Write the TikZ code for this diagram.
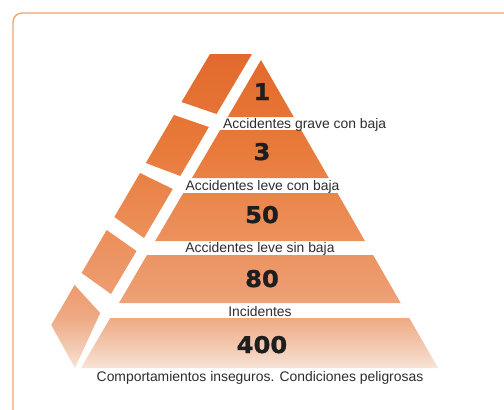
\documentclass[tikz,border=0pt]{standalone}
\usepackage{fontspec}
\setmainfont{Liberation Sans}
\newfontfamily\numfont[FakeBold=1.2, FakeStretch=1.05]{DejaVu Sans}
\definecolor{frameor}{RGB}{240,162,100}
\definecolor{txt}{RGB}{45,45,45}
\definecolor{numc}{RGB}{30,30,30}
\definecolor{s0}{RGB}{247,228,216}
\definecolor{s1}{RGB}{244,208,186}
\definecolor{s2}{RGB}{238,170,132}
\definecolor{s3}{RGB}{237,156,112}
\definecolor{s4}{RGB}{235,138,82}
\definecolor{s5}{RGB}{232,122,58}
\definecolor{s6}{RGB}{226,105,45}
\pgfdeclareverticalshading{pyr}{100bp}{color(0bp)=(s0); color(25bp)=(s0); color(27.5bp)=(s1); color(33bp)=(s2); color(37.5bp)=(s3); color(50bp)=(s4); color(60bp)=(s5); color(75bp)=(s6); color(100bp)=(s6)}
\tikzset{
  lbl/.style={inner sep=0pt, text=txt, font=\fontsize{13.9}{16}\selectfont},
  num/.style={inner sep=0pt, anchor=base, text=numc, font=\numfont\bfseries\fontsize{23}{26}\selectfont},
}
\begin{document}
\begin{tikzpicture}[x=1pt,y=-1pt]
\useasboundingbox (0,0) rectangle (504,410);
\begin{scope}
\clip (0,0) rectangle (504,410);
\draw[frameor, line width=1.3pt, rounded corners=9pt] (13,13) rectangle (530,440);
\end{scope}
% pyramid faces (one shaded path)
\shade[shading=pyr]
  % front layers
  (261,60) -- (293.8,117) -- (227.7,117) -- cycle
  (220.1,130) -- (301.2,130) -- (328.8,178) -- (192.0,178) -- cycle
  (183.3,193) -- (337.4,193) -- (365.0,241) -- (155.2,241) -- cycle
  (147.0,255) -- (373.1,255) -- (400.7,303) -- (119.0,303) -- cycle
  (110.2,318) -- (409.3,318) -- (438.0,368) -- (81.0,368) -- cycle
  % side blocks
  (210,54) -- (252,54) -- (216.5,114) -- (181.5,102) -- cycle
  (173.9,115) -- (208.9,127) -- (180.3,176) -- (145.8,163) -- cycle
  (140.0,173) -- (172.7,189) -- (144.0,238) -- (114.3,217) -- cycle
  (106.7,230) -- (136.5,251) -- (111.0,294) -- (81.6,273) -- cycle
  (74.6,285) -- (100.2,313) -- (75,368) -- (51.2,325) -- cycle;
% numbers
\node[num] (n1) at (262,100) {1};
\node[num] (n3) at (262,160) {3};
\node[num] (n50) at (262,223) {50};
\node[num] (n80) at (262,287) {80};
\node[num] (n400) at (262,353) {400};
% labels
\node[lbl, anchor=base west] (l1) at (223,128.3) {Accidentes grave con baja};
\node[lbl, anchor=base] (l2) at (262.5,190.7) {Accidentes leve con baja};
\node[lbl, anchor=base] (l3) at (260,252.7) {Accidentes leve sin baja};
\node[lbl, anchor=base] (l4) at (260,316) {Incidentes};
\node[lbl, anchor=base] (l5) at (260,381.3) {Comportamientos inseguros. Condiciones peligrosas};
\end{tikzpicture}
\end{document}
